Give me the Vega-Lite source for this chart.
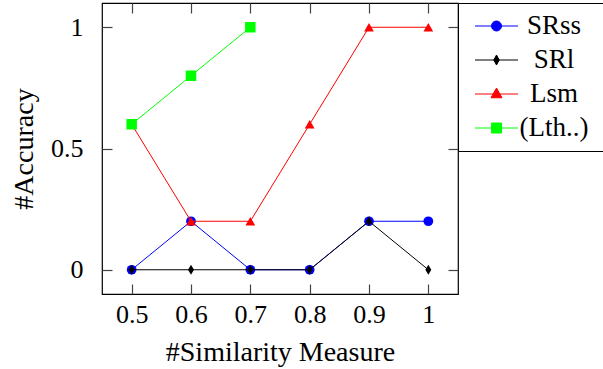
{
  "$schema": "https://vega.github.io/schema/vega-lite/v6.json",
  "width": 356,
  "height": 291,
  "autosize": "none",
  "padding": {"left": 102, "top": 3, "right": 145, "bottom": 75},
  "config": {
    "view": {"stroke": "black", "strokeWidth": 1.2},
    "font": "Liberation Serif",
    "axis": {
      "grid": false,
      "domain": false,
      "ticks": true,
      "tickSize": 10,
      "offset": -10,
      "tickColor": "#444444",
      "tickWidth": 1.2,
      "tickOpacity": 1,
      "zindex": 1,
      "labelFont": "Liberation Serif",
      "labelFontSize": 26,
      "labelColor": "black",
      "titleFont": "Liberation Serif",
      "titleFontSize": 28,
      "titleFontWeight": "normal",
      "titleColor": "black"
    },
    "legend": {
      "labelFont": "Liberation Serif",
      "labelFontSize": 27,
      "labelColor": "black"
    }
  },
  "data": {
    "values": [
      {"m": 0.5, "acc": 0, "s": "SRss"},
      {"m": 0.6, "acc": 0.2, "s": "SRss"},
      {"m": 0.7, "acc": 0, "s": "SRss"},
      {"m": 0.8, "acc": 0, "s": "SRss"},
      {"m": 0.9, "acc": 0.2, "s": "SRss"},
      {"m": 1.0, "acc": 0.2, "s": "SRss"},
      {"m": 0.5, "acc": 0, "s": "SRl"},
      {"m": 0.6, "acc": 0, "s": "SRl"},
      {"m": 0.7, "acc": 0, "s": "SRl"},
      {"m": 0.8, "acc": 0, "s": "SRl"},
      {"m": 0.9, "acc": 0.2, "s": "SRl"},
      {"m": 1.0, "acc": 0, "s": "SRl"},
      {"m": 0.5, "acc": 0.6, "s": "Lsm"},
      {"m": 0.6, "acc": 0.2, "s": "Lsm"},
      {"m": 0.7, "acc": 0.2, "s": "Lsm"},
      {"m": 0.8, "acc": 0.6, "s": "Lsm"},
      {"m": 0.9, "acc": 1, "s": "Lsm"},
      {"m": 1.0, "acc": 1, "s": "Lsm"},
      {"m": 0.5, "acc": 0.6, "s": "(Lth..)"},
      {"m": 0.6, "acc": 0.8, "s": "(Lth..)"},
      {"m": 0.7, "acc": 1, "s": "(Lth..)"}
    ]
  },
  "layer": [
    {
      "encoding": {
        "x": {"field": "m", "type": "quantitative", "scale": {"domain": [0.45, 1.05], "nice": false, "zero": false},
              "axis": {"values": [0.5, 0.6, 0.7, 0.8, 0.9, 1], "format": "~g", "title": "#Similarity Measure", "labelPadding": 7, "titlePadding": 11}},
        "y": {"field": "acc", "type": "quantitative", "scale": {"domain": [-0.1, 1.1], "nice": false, "zero": false},
              "axis": {"values": [0, 0.5, 1], "format": "~g", "title": "#Accuracy", "labelPadding": 19, "titlePadding": 12}},
        "color": {"field": "s", "type": "nominal",
                  "scale": {"domain": ["SRss", "SRl", "Lsm", "(Lth..)"], "range": ["#0000ff", "#000000", "#ff0000", "#00ff00"]},
                  "legend": {
                    "title": null,
                    "orient": "none",
                    "legendX": 356,
                    "legendY": 0,
                    "strokeColor": "black",
                    "fillColor": "white",
                    "padding": 9.5,
                    "symbolSize": 100,
                    "symbolOffset": 15.5,
                    "symbolStrokeWidth": 1,
                    "labelFontSize": 27,
                    "labelColor": "black",
                    "labelAlign": "center",
                    "labelOffset": 44,
                    "rowPadding": 6,
                    "encode": {
                      "symbols": {
                        "update": {
                          "shape": {"signal": "datum.value === 'SRss' ? 'M-4.3,0H4.3M-1,0A1,1 0 1,0 1,0A1,1 0 1,0 -1,0ZM19,0' : datum.value === 'SRl' ? 'M-4.3,0H4.3M0,-1L0.55,0L0,1L-0.55,0ZM19,0' : datum.value === 'Lsm' ? 'M-4.3,0H4.3M0,-1.2L1.1,0.75L-1.1,0.75ZM19,0' : 'M-4.3,0H4.3M-1,-1H1V1H-1ZM19,0'"},
                          "fill": {"signal": "scale('color', datum.value)"},
                          "stroke": {"signal": "scale('color', datum.value)"},
                          "strokeWidth": {"value": 1},
                          "opacity": {"value": 1}
                        }
                      }
                    }
                  }}
      },
      "layer": [
        {"transform": [{"filter": "datum.s === 'SRss'"}], "mark": {"type": "line", "strokeWidth": 1}},
        {"transform": [{"filter": "datum.s === 'SRss'"}], "mark": {"type": "point", "shape": "circle", "filled": true, "size": 95, "opacity": 1}},
        {"transform": [{"filter": "datum.s === 'SRl'"}], "mark": {"type": "line", "strokeWidth": 1}},
        {"transform": [{"filter": "datum.s === 'SRl'"}], "mark": {"type": "point", "shape": "M0,-1L0.6,0L0,1L-0.6,0Z", "filled": true, "size": 100, "opacity": 1}},
        {"transform": [{"filter": "datum.s === 'Lsm'"}], "mark": {"type": "line", "strokeWidth": 1}},
        {"transform": [{"filter": "datum.s === 'Lsm'"}], "mark": {"type": "point", "shape": "triangle-up", "filled": true, "size": 95, "opacity": 1}},
        {"transform": [{"filter": "datum.s === '(Lth..)'"}], "mark": {"type": "line", "strokeWidth": 1}},
        {"transform": [{"filter": "datum.s === '(Lth..)'"}], "mark": {"type": "point", "shape": "square", "filled": true, "size": 110, "opacity": 1}}
      ]
    },
    {
      "mark": {"type": "point", "opacity": 0},
      "encoding": {
        "x": {"field": "m", "type": "quantitative", "axis": {"orient": "top", "values": [0.5, 0.6, 0.7, 0.8, 0.9, 1], "labels": false, "title": null}},
        "y": {"field": "acc", "type": "quantitative", "axis": {"orient": "right", "values": [0, 0.5, 1], "labels": false, "title": null}}
      }
    }
  ],
  "resolve": {"axis": {"x": "independent", "y": "independent"}}
}
